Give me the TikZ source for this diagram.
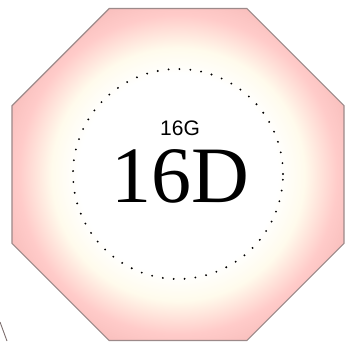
\documentclass[tikz,border=0pt]{standalone}
\usepackage{fontspec}
\setmainfont{Liberation Serif}
\newfontfamily\tagsans{Liberation Sans}
\usetikzlibrary{shapes.geometric}
\definecolor{edgegrey}{HTML}{9C8A8A}
\definecolor{glowcream}{HTML}{FFFBEC}
\definecolor{glowpink}{HTML}{FFCBC9}
\definecolor{glowdeep}{HTML}{F7BCBA}
\pgfdeclareradialshading{octglow}{\pgfpoint{0bp}{0bp}}{%
  color(0bp)=(white); color(15bp)=(white); color(19bp)=(glowcream);
  color(24bp)=(glowpink); color(28bp)=(glowdeep); color(50bp)=(glowdeep)}

\begin{document}
\begin{tikzpicture}[x=1pt,y=-1pt,
      octbox/.style={regular polygon,regular polygon sides=8,
                     minimum size=359.4pt,inner sep=0pt,outer sep=0pt,
                     draw=edgegrey,line width=1.1pt,shading=octglow},
      ringbox/.style={circle,minimum size=210pt,inner sep=0pt,
                      draw=black,line width=2.1pt,line cap=round,
                      dash pattern=on 0pt off 10.9pt},
      smalltag/.style={font=\tagsans\fontsize{21}{21}\selectfont,inner sep=0pt,anchor=base},
      bigtag/.style={font=\fontsize{80}{80}\selectfont,inner sep=0pt,anchor=base}]
    \useasboundingbox (0,0) rectangle (354,343);
    \node[octbox] (oct) at (178,174.5) {};
    \node[ringbox] (ring) at (178,174) {};
    \node[smalltag] (code16g) at (180,135) {16G};
    \node[bigtag] (code16d) at (180,202) {16D};
    \draw[edgegrey!80!black,line width=0.9pt] (0,322) -- (7,341);
  \end{tikzpicture}
\end{document}
